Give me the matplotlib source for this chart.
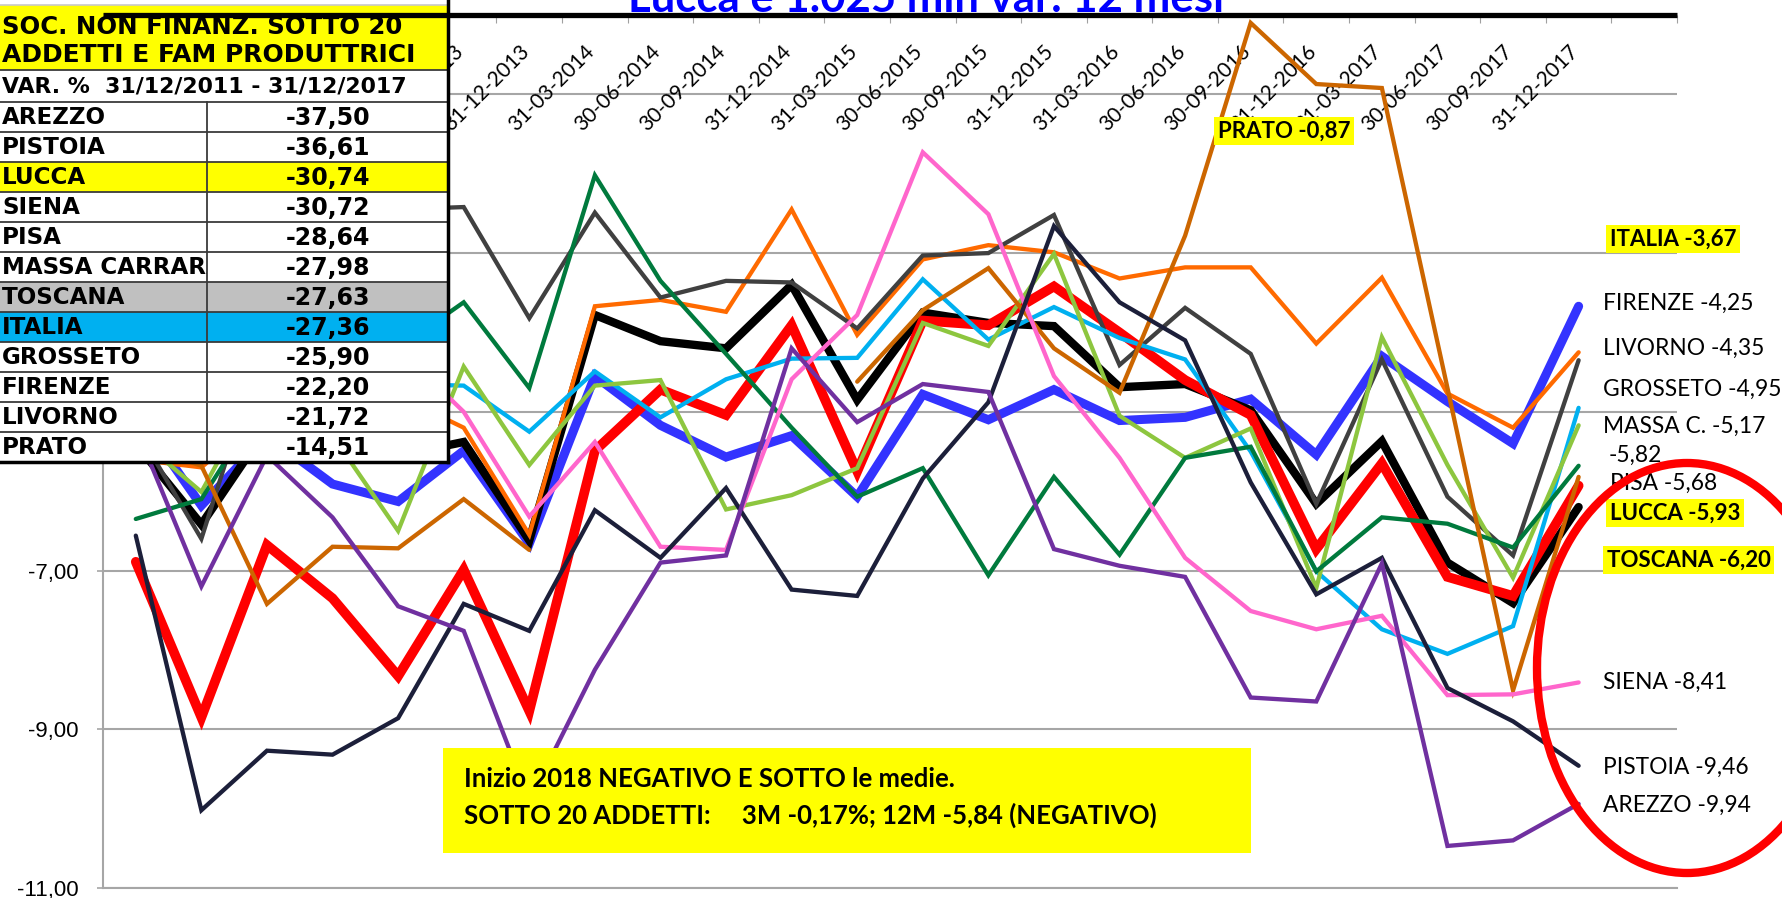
import numpy as np
import matplotlib.pyplot as plt
from matplotlib.patches import Rectangle, Ellipse

W, H = 1783, 898
nan = np.nan

dates = ["30-06-2012", "30-09-2012", "31-12-2012", "31-03-2013", "30-06-2013",
         "30-09-2013", "31-12-2013", "31-03-2014", "30-06-2014", "30-09-2014",
         "31-12-2014", "31-03-2015", "30-06-2015", "30-09-2015", "31-12-2015",
         "31-03-2016", "30-06-2016", "30-09-2016", "31-12-2016", "31-03-2017",
         "30-06-2017", "30-09-2017", "31-12-2017"]

# var. % 12 mesi
italia = [-5.0, -6.18, -5.3, -5.91, -6.13, -5.49, -6.66, -4.55, -5.17, -5.57, -5.30, -6.07,
          -4.78, -5.10, -4.72, -5.11, -5.07, -4.84, -5.54, -4.30, -4.87, -5.40, -3.67]
toscana = [-5.4, -6.42, -5.2, -5.5, -5.55, -5.38, -6.62, -3.78, -4.11, -4.20, -3.40, -4.85,
           -3.75, -3.88, -3.92, -4.69, -4.65, -4.98, -6.16, -5.37, -6.90, -7.41, -6.20]
lucca = [-6.89, -8.85, -6.68, -7.35, -8.33, -6.99, -8.77, -5.49, -4.72, -5.04, -3.91, -5.75,
         -3.85, -3.91, -3.42, -4.00, -4.60, -5.04, -6.73, -5.65, -7.08, -7.32, -5.93]
firenze = [-5.6, -5.70, -5.0, -4.9, -4.8, -5.20, -6.55, -3.67, -3.59, -3.74, -2.45, -4.03,
           -3.08, -2.90, -2.99, -3.32, -3.18, -3.18, -4.14, -3.31, -4.77, -5.20, -4.25]
livorno = [-5.2, -6.60, -4.0, -3.0, -2.45, -2.42, -3.82, -2.49, -3.56, -3.35, -3.37, -3.95,
           -3.03, -3.00, -2.52, -4.41, -3.69, -4.27, -6.16, -4.34, -6.07, -6.81, -4.35]
grosseto = [-5.3, -5.5, -5.0, -4.8, -4.65, -4.67, -5.25, -4.49, -5.07, -4.59, -4.33, -4.32,
            -3.33, -4.09, -3.68, -4.07, -4.34, -5.50, -7.01, -7.74, -8.05, -7.70, -4.95]
massa = [-5.3, -6.01, -4.5, -5.3, -6.50, -4.43, -5.67, -4.67, -4.60, -6.23, -6.05, -5.71,
         -3.88, -4.17, -3.01, -5.05, -5.58, -5.21, -7.22, -4.06, -5.67, -7.09, -5.17]
pisa = [-6.35, -6.10, -4.8, -4.5, -4.2, -3.62, -4.70, -2.02, -3.35, -4.27, -5.20, -6.07,
        -5.71, -7.06, -5.82, -6.80, -5.58, -5.44, -7.01, -6.33, -6.41, -6.71, -5.68]
prato = [-5.4, -5.68, -7.42, -6.70, -6.72, -6.10, -6.74, nan, nan, nan, nan, -4.62,
         -3.72, -3.19, -4.20, -4.76, -2.78, -0.10, -0.87, -0.92, -4.70, -8.51, -5.82]
siena = [-5.0, -4.8, -4.5, -4.3, -4.2, -5.00, -6.32, -5.38, -6.70, -6.74, -4.59, -3.78,
         -1.73, -2.51, -4.55, -5.58, -6.84, -7.51, -7.74, -7.57, -8.57, -8.56, -8.41]
pistoia = [-6.56, -10.02, -9.27, -9.32, -8.86, -7.42, -7.76, -6.24, -6.84, -5.96, -7.24, -7.32,
           -5.84, -4.88, -2.66, -3.62, -4.10, -5.89, -7.30, -6.84, -8.48, -8.90, -9.46]
arezzo = [-5.2, -7.20, -5.55, -6.33, -7.45, -7.76, -9.90, -8.25, -6.90, -6.81, -4.20, -5.13,
          -4.65, -4.75, -6.73, -6.94, -7.08, -8.60, -8.65, -6.91, -10.47, -10.40, -9.94]

# tabella var. % 31/12/2011 - 31/12/2017
table_names = ["AREZZO", "PISTOIA", "LUCCA", "SIENA", "PISA", "MASSA CARRARA",
               "TOSCANA", "ITALIA", "GROSSETO", "FIRENZE", "LIVORNO", "PRATO"]
table_values = [-37.50, -36.61, -30.74, -30.72, -28.64, -27.98,
                -27.63, -27.36, -25.90, -22.20, -21.72, -14.51]
row_colors = {"LUCCA": "#FFFF00", "TOSCANA": "#C0C0C0", "ITALIA": "#00B0F0"}

# tick asse y (quelli sotto la tabella non si vedono)
yt = [-11, -9, -7, -5, -3, -1]
yt_shown = [-11, -9, -7]


def fmt(v):
    return f"{v:.2f}".replace(".", ",")


fig = plt.figure(figsize=(W / 100, H / 100), dpi=100)
ax = fig.add_axes([103 / W, 1 - 888 / H, 1574 / W, 873 / H], zorder=1)
ov = fig.add_axes([0, 0, 1, 1], zorder=3)
ov.set_xlim(0, W)
ov.set_ylim(H, 0)
ov.axis("off")
ov.patch.set_alpha(0)

x = np.arange(len(dates))
thin = 3.1
series = [
    ("ITALIA", italia, "#3333FF", 6.5),
    ("TOSCANA", toscana, "#000000", 6.0),
    ("LUCCA", lucca, "#FF0000", 7.0),
    ("FIRENZE", firenze, "#FF6A00", thin),
    ("LIVORNO", livorno, "#404040", thin),
    ("GROSSETO", grosseto, "#00B0F0", thin),
    ("MASSA C.", massa, "#8DC63F", thin),
    ("PISA", pisa, "#007A3D", thin),
    ("PRATO", prato, "#CC6600", thin),
    ("SIENA", siena, "#FF66CC", thin),
    ("PISTOIA", pistoia, "#1C1F3A", thin),
    ("AREZZO", arezzo, "#7030A0", thin),
]
for i, (name, vals, col, lw) in enumerate(series):
    ax.plot(x, vals, color=col, lw=lw, zorder=3 + i, solid_joinstyle="miter",
            solid_capstyle="round")

ax.set_xlim(-0.5, len(dates) + 0.5)
ax.set_ylim(-11, 0)
ax.set_yticks(yt)
ax.set_yticklabels([fmt(v) if v in yt_shown else "" for v in yt], fontsize=16,
                   family="Liberation Sans")
ax.yaxis.grid(True, color="#A6A6A6", lw=1.5)
ax.set_axisbelow(True)
ax.tick_params(axis="y", length=4.5, width=1.2, color="#A6A6A6", pad=13)
ax.set_xticks(np.arange(len(dates) + 2) - 0.5)
ax.tick_params(axis="x", bottom=False, top=True, direction="in", length=6,
               color="#A0A0A0", labelbottom=False, labeltop=False)
for s in ["top", "right"]:
    ax.spines[s].set_visible(False)
ax.spines["left"].set_color("#A6A6A6")
ax.spines["left"].set_linewidth(1.5)
ax.spines["bottom"].set_color("#A6A6A6")
ax.spines["bottom"].set_linewidth(1.5)

for i, d in enumerate(dates):
    ax.text(i - 0.05, -0.42, d, rotation=45, rotation_mode="anchor", ha="right",
            va="center", fontsize=15, family="Lato", zorder=2)

# tabella in alto a sinistra
ov.add_patch(Rectangle((0, 5), 448, 65, facecolor="#FFFF00", edgecolor="none", zorder=1))
ov.add_patch(Rectangle((0, 70), 448, 32, facecolor="white", edgecolor="none", zorder=1))
ov.plot([0, 448], [5, 5], color="#C8C8C8", lw=1.2, zorder=2)
tkw = dict(family="DejaVu Sans", fontweight="bold", va="center")
ov.text(2, 27, "SOC. NON FINANZ. SOTTO 20", fontsize=17.6, zorder=3, **tkw)
ov.text(2, 55, "ADDETTI E FAM PRODUTTRICI", fontsize=18, zorder=3, **tkw)
ov.text(2, 86, "VAR. %  31/12/2011 - 31/12/2017", fontsize=15.8, zorder=3, **tkw)
row_h = 30
top = 102
for k, (nm, val) in enumerate(zip(table_names, table_values)):
    y0 = top + k * row_h
    bg = row_colors.get(nm, "white")
    ov.add_patch(Rectangle((0, y0), 207, row_h, facecolor=bg, edgecolor="none", zorder=1))
    ov.text(2, y0 + row_h / 2 + 1, nm, fontsize=16.6, zorder=3, **tkw)
    ov.add_patch(Rectangle((207, y0), 241, row_h, facecolor=bg, edgecolor="none", zorder=4))
    ov.text(328, y0 + row_h / 2 + 1, fmt(val), fontsize=17, ha="center", zorder=5, **tkw)
for k in range(len(table_names) + 1):
    yy = top + k * row_h
    ov.plot([0, 448], [yy, yy], color="#3A3A3A", lw=1.3, zorder=6)
ov.plot([0, 448], [70, 70], color="#3A3A3A", lw=1.3, zorder=6)
ov.plot([207, 207], [top, top + 12 * row_h], color="#3A3A3A", lw=1.3, zorder=6)
ov.plot([448, 448], [0, top + 12 * row_h], color="black", lw=2.5, zorder=7)
ov.plot([0, 448], [top + 12 * row_h, top + 12 * row_h], color="black", lw=2.5, zorder=7)

# asse orizzontale nero sullo zero, sopra la tabella
ov.plot([0, 1], [0, 0], transform=ax.get_yaxis_transform(), color="black", lw=3.8,
        solid_capstyle="butt", clip_on=False, zorder=9)

# titolo (tagliato in alto come nell'originale)
ov.text(628, 12, "Lucca e 1.025 mln var. 12 mesi", fontsize=31.5, family="Lato",
        fontweight="bold", color="#0000FF", va="baseline", zorder=9)

# etichette finali
lab = [
    ("ITALIA " + fmt(italia[-1]), 239, True, 1610),
    ("FIRENZE " + fmt(firenze[-1]), 303, False, 1603),
    ("LIVORNO " + fmt(livorno[-1]), 348, False, 1603),
    ("GROSSETO " + fmt(grosseto[-1]), 389, False, 1603),
    ("MASSA C. " + fmt(massa[-1]), 426, False, 1603),
    (fmt(prato[-1]), 455, False, 1609),
    ("PISA " + fmt(pisa[-1]), 483, False, 1610),
    ("LUCCA " + fmt(lucca[-1]), 513, True, 1610),
    ("TOSCANA " + fmt(toscana[-1]), 560, True, 1607),
    ("SIENA " + fmt(siena[-1]), 682, False, 1603),
    ("PISTOIA " + fmt(pistoia[-1]), 767, False, 1603),
    ("AREZZO " + fmt(arezzo[-1]), 805, False, 1603),
]
for txt, yy, bold, xx in lab:
    if bold:
        ov.text(xx, yy, txt, fontsize=16, family="Lato", fontweight="bold", va="center",
                bbox=dict(facecolor="#FFFF00", edgecolor="none", pad=2.5), zorder=8)
    else:
        ov.text(xx, yy, txt, fontsize=16.4, family="Lato", va="center", zorder=8)
ov.text(1218, 131, "PRATO " + fmt(prato[18]), fontsize=16, family="Lato", fontweight="bold",
        va="center", bbox=dict(facecolor="#FFFF00", edgecolor="none", pad=2.5), zorder=8)

# riquadro commento
ov.add_patch(Rectangle((443, 748), 808, 105, facecolor="#FFFF00", edgecolor="none", zorder=8))
ov.text(464, 779, "Inizio 2018 NEGATIVO E SOTTO le medie.", fontsize=18.5, family="Lato",
        fontweight="bold", va="center", zorder=9)
ov.text(464, 815, "SOTTO 20 ADDETTI:     3M -0,17%; 12M -5,84 (NEGATIVO)", fontsize=18.5,
        family="Lato", fontweight="bold", va="center", zorder=9)

# cerchio rosso
ov.add_patch(Ellipse((1687, 668), 300, 410, facecolor="none", edgecolor="#FF0000", lw=6,
                     zorder=10, clip_on=False))

fig.savefig("out.png", dpi=100)
